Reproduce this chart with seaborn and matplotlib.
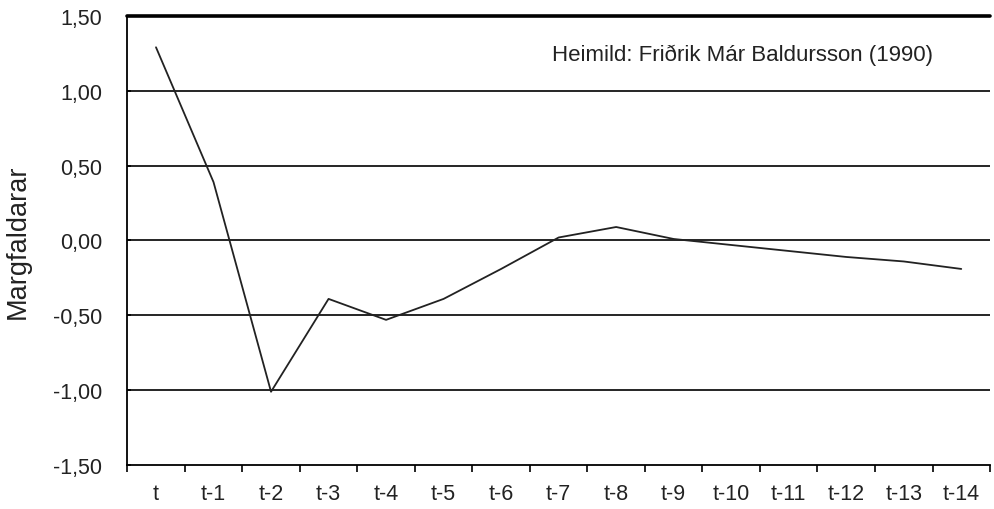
import matplotlib
matplotlib.use("Agg")
import matplotlib.pyplot as plt
import seaborn as sns
import pandas as pd
import numpy as np
from matplotlib.ticker import FixedLocator

categories = ["t", "t-1", "t-2", "t-3", "t-4", "t-5", "t-6", "t-7", "t-8", "t-9",
              "t-10", "t-11", "t-12", "t-13", "t-14"]
values = [1.29, 0.39, -1.01, -0.39, -0.53, -0.39, -0.19, 0.02, 0.09, 0.01,
          -0.03, -0.07, -0.11, -0.14, -0.19]
y_ticks = [-1.5, -1.0, -0.5, 0.0, 0.5, 1.0, 1.5]
y_labels = ["-1,50", "-1,00", "-0,50", "0,00", "0,50", "1,00", "1,50"]

sns.set_theme(style="white")
plt.rcParams['font.family'] = ['Liberation Sans', 'DejaVu Sans']

df = pd.DataFrame({"pos": np.arange(len(categories)), "val": values})

fig = plt.figure(figsize=(9.94, 5.10), dpi=100)
ax = fig.add_axes([0.128, 0.086, 0.868, 0.881])

for yv in [-1.0, -0.5, 0.0, 0.5, 1.0]:
    ax.axhline(yv, color="black", lw=1.2, zorder=1)
ax.axhline(1.5, color="black", lw=2.6, zorder=1, clip_on=False)

sns.lineplot(data=df, x="pos", y="val", ax=ax, color="#222222", lw=1.3, zorder=3)

ax.set_xlim(-0.5, len(categories) - 0.5)
ax.set_ylim(-1.5, 1.5)
ax.set_yticks(y_ticks)
ax.set_yticklabels(y_labels, fontsize=15.5, color="#222222")
ax.set_xticks(np.arange(len(categories)))
ax.set_xticklabels(categories, fontsize=15.5, color="#222222")
ax.xaxis.set_minor_locator(FixedLocator(np.arange(len(categories) + 1) - 0.5))
ax.tick_params(axis="x", which="major", length=0, pad=13)
ax.tick_params(axis="x", which="minor", length=5, width=1.2, direction="out", color="black", bottom=True)
ax.tick_params(axis="y", which="major", length=3, width=1.2, direction="in", color="black", left=True, pad=18)

ax.set_xlabel("")
ax.set_ylabel("Margfaldarar", fontsize=19.5, color="#222222", labelpad=16)

for s in ["right", "top"]:
    ax.spines[s].set_visible(False)
for s in ["left", "bottom"]:
    ax.spines[s].set_color("black")
    ax.spines[s].set_linewidth(1.3)

ax.text(13.5, 1.24, "Heimild: Friðrik Már Baldursson (1990)", ha="right", va="center",
        fontsize=16, color="#222222")

fig.savefig("out.png", dpi=100)
